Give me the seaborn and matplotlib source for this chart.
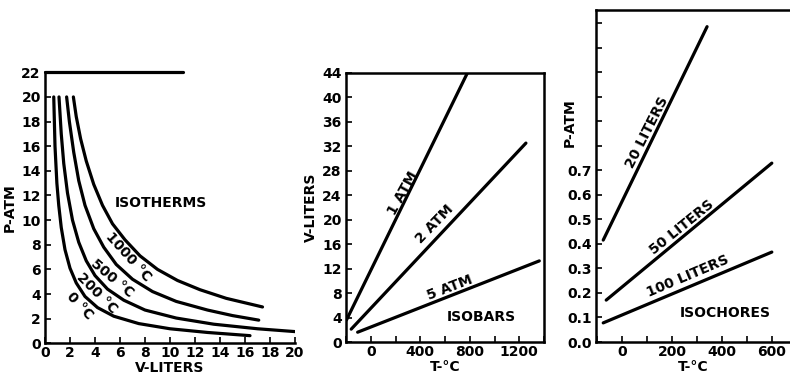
import numpy as np
import matplotlib
matplotlib.use('Agg')
import matplotlib.pyplot as plt
import seaborn as sns

# isotherms (P vs V)
iso_0_v = [0.7, 0.8, 0.95, 1.1, 1.3, 1.6, 2.0, 2.5, 3.2, 4.2, 5.5, 7.5, 10.0, 13.0, 16.4]
iso_0_p = [20, 16, 13, 11.2, 9.4, 7.6, 6.1, 4.9, 3.8, 2.9, 2.2, 1.6, 1.18, 0.88, 0.62]
iso_200_v = [1.12, 1.3, 1.5, 1.8, 2.2, 2.7, 3.3, 4.0, 5.0, 6.3, 8.0, 10.5, 13.5, 17.0, 20.0]
iso_200_p = [20, 17, 14.6, 12.2, 10.0, 8.2, 6.7, 5.5, 4.4, 3.5, 2.7, 2.05, 1.55, 1.18, 0.95]
iso_500_v = [1.73, 1.95, 2.3, 2.7, 3.2, 3.9, 4.7, 5.7, 7.0, 8.6, 10.5, 13.0, 15.0, 17.1]
iso_500_p = [20, 18, 15.5, 13.2, 11.2, 9.3, 7.8, 6.4, 5.2, 4.2, 3.4, 2.7, 2.25, 1.88]
iso_1000_v = [2.27, 2.5, 2.85, 3.3, 3.9, 4.6, 5.4, 6.4, 7.6, 9.0, 10.6, 12.4, 14.5, 17.4]
iso_1000_p = [20, 18.4, 16.6, 14.8, 12.9, 11.2, 9.7, 8.4, 7.1, 6.0, 5.1, 4.35, 3.65, 2.95]
top_line_v = [0, 11]
top_line_p = [22, 22]

# isobars (V vs T)
bar_1_t = [-196, 782]
bar_1_v = [3.6, 44]
bar_2_t = [-158, 1254]
bar_2_v = [2.1, 32.5]
bar_5_t = [-106, 1362]
bar_5_v = [1.6, 13.25]

# isochores (P vs T)
cho_20_t = [-77, 340]
cho_20_p = [0.416, 1.287]
cho_50_t = [-65, 600]
cho_50_p = [0.171, 0.73]
cho_100_t = [-77, 600]
cho_100_p = [0.078, 0.367]

sns.set_theme(style='ticks')
plt.rcParams['font.family'] = ['DejaVu Sans']
plt.rcParams['font.weight'] = 'bold'
for k in ['text.color', 'axes.labelcolor', 'xtick.color', 'ytick.color', 'axes.edgecolor']:
    plt.rcParams[k] = 'black'

fig = plt.figure(figsize=(7.9, 3.78), dpi=100)
W, H = 790, 378

def add_ax(x0, x1, ytop, ybot):
    return fig.add_axes([x0 / W, (H - ybot) / H, (x1 - x0) / W, (ybot - ytop) / H])

LW = 2.3
FS = 10
tick_kw = dict(direction='in', length=4, width=1.2, labelsize=FS, colors='black')

def style(ax):
    for s in ax.spines.values():
        s.set_linewidth(1.8)
        s.set_color('black')
    ax.tick_params(**tick_kw)
    for lab in ax.get_xticklabels() + ax.get_yticklabels():
        lab.set_fontweight('bold')

def line(ax, x, y):
    sns.lineplot(x=x, y=y, ax=ax, color='black', lw=LW, sort=False, estimator=None)

def label(ax, txt, x, y, rot=0):
    ax.text(x, y, txt, fontsize=FS, fontweight='bold', ha='center', va='center',
            rotation=rot, rotation_mode='anchor', color='black')

# ---- panel 1: isotherms
ax1 = add_ax(45, 295, 72.3, 343.3)
for v, p in [(iso_0_v, iso_0_p), (iso_200_v, iso_200_p), (iso_500_v, iso_500_p), (iso_1000_v, iso_1000_p)]:
    line(ax1, v, p)
ax1.plot(top_line_v, top_line_p, color='black', lw=LW, clip_on=False)
ax1.set_xlim(0, 20)
ax1.set_ylim(0, 22)
ax1.set_xticks(range(0, 21, 2))
ax1.set_yticks(range(0, 23, 2))
sns.despine(ax=ax1)
style(ax1)
ax1.tick_params(axis='y', pad=3)
ax1.tick_params(axis='x', pad=2)
ax1.set_xlabel('V-LITERS', fontsize=FS, fontweight='bold', labelpad=1)
ax1.set_ylabel('P-ATM', fontsize=FS, fontweight='bold', labelpad=3)
label(ax1, 'ISOTHERMS', 9.3, 11.4)
label(ax1, '1000 °C', 6.66, 7.03, -48)
label(ax1, '500 °C', 5.34, 5.27, -40)
label(ax1, '200 °C', 4.14, 4.06, -45)
label(ax1, '0 °C', 2.8, 3.03, -47)

# ---- panel 2: isobars
ax2 = add_ax(346, 544, 72.7, 342)
for t, v in [(bar_1_t, bar_1_v), (bar_2_t, bar_2_v), (bar_5_t, bar_5_v)]:
    line(ax2, t, v)
ax2.set_xlim(-196, 1388)
ax2.set_ylim(0, 44)
ax2.set_xticks(range(-200, 1401, 200))
ax2.set_xticklabels(['' if t % 400 or t < 0 else str(t) for t in range(-200, 1401, 200)])
ax2.set_yticks(range(0, 45, 4))
style(ax2)
ax2.tick_params(axis='y', pad=3)
ax2.tick_params(axis='x', pad=2)
ax2.set_xlabel('T-°C', fontsize=FS, fontweight='bold', labelpad=1)
ax2.set_ylabel('V-LITERS', fontsize=FS, fontweight='bold', labelpad=3)
label(ax2, 'ISOBARS', 890, 4.1)
label(ax2, '1 ATM', 262, 24.3, 61)
label(ax2, '2 ATM', 516, 19.2, 46)
label(ax2, '5 ATM', 636, 8.9, 21)

# ---- panel 3: isochores
ax3 = add_ax(596, 790, 10, 342)
for t, p in [(cho_20_t, cho_20_p), (cho_50_t, cho_50_p), (cho_100_t, cho_100_p)]:
    line(ax3, t, p)
ax3.set_xlim(-106, 673)
ax3.set_ylim(0, 1.355)
ax3.set_xticks(range(-100, 601, 100))
ax3.set_xticklabels(['' if t % 200 or t < 0 else str(t) for t in range(-100, 601, 100)])
yt = [i / 10 for i in range(14)]
ax3.set_yticks(yt)
ax3.set_yticklabels([f'{v:.1f}' if v < 0.75 else '' for v in yt])
ax3.spines['right'].set_visible(False)
style(ax3)
ax3.tick_params(axis='y', pad=3)
ax3.tick_params(axis='x', pad=2)
ax3.set_xlabel('T-°C', fontsize=FS, fontweight='bold', labelpad=1)
ax3.set_ylabel('P-ATM', fontsize=FS, fontweight='bold')
ax3.yaxis.set_label_coords(-0.1, 0.66)
label(ax3, 'ISOCHORES', 412, 0.117)
label(ax3, '20 LITERS', 98, 0.855, 63)
label(ax3, '50 LITERS', 239, 0.47, 39)
label(ax3, '100 LITERS', 264, 0.267, 23)

fig.savefig('out.png', dpi=100, facecolor='white')
